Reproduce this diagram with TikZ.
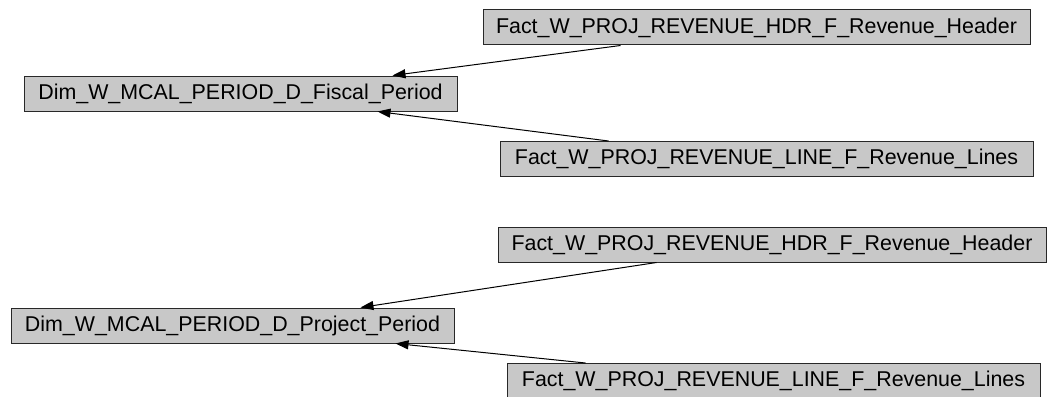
\documentclass[tikz,border=0pt]{standalone}
\usepackage{fontspec}
\setmainfont{Liberation Sans}
\usetikzlibrary{arrows.meta, positioning}
\definecolor{boxfill}{RGB}{200,200,200}
\definecolor{boxline}{RGB}{40,40,40}

\begin{document}
\begin{tikzpicture}[
    x=1pt, y=-1pt,
    entity/.style={rectangle, draw=boxline, fill=boxfill, line width=1pt, inner sep=0pt,
        minimum height=35pt, font=\fontsize{21.4}{25}\selectfont},
    edge/.style={-{Triangle[length=13pt, width=9pt]}, line width=1pt}
]
    \useasboundingbox (0,0) rectangle (1048,396);

    \node[entity, minimum width=433pt] (dimFiscal) at (240.5,93.5) {Dim\_W\_MCAL\_PERIOD\_D\_Fiscal\_Period};
    \node[entity, minimum width=547pt] (hdrFiscal) at (756.5,27.5) {Fact\_W\_PROJ\_REVENUE\_HDR\_F\_Revenue\_Header};
    \node[entity, minimum width=533pt] (lineFiscal) at (766.5,159) {Fact\_W\_PROJ\_REVENUE\_LINE\_F\_Revenue\_Lines};

    \node[entity, minimum width=443pt] (dimProject) at (232.5,325.5) {Dim\_W\_MCAL\_PERIOD\_D\_Project\_Period};
    \node[entity, minimum width=548pt] (hdrProject) at (772,244.5) {Fact\_W\_PROJ\_REVENUE\_HDR\_F\_Revenue\_Header};
    \node[entity, minimum width=533pt] (lineProject) at (773.5,381) {Fact\_W\_PROJ\_REVENUE\_LINE\_F\_Revenue\_Lines};

    \draw[edge] ([xshift=138pt]hdrFiscal.south west) -- ([xshift=-65pt]dimFiscal.north east);
    \draw[edge] ([xshift=109pt]lineFiscal.north west) -- ([xshift=-80pt]dimFiscal.south east);
    \draw[edge] ([xshift=159pt]hdrProject.south west) -- ([xshift=-94pt]dimProject.north east);
    \draw[edge] ([xshift=79pt]lineProject.north west) -- ([xshift=-59pt]dimProject.south east);
\end{tikzpicture}
\end{document}
